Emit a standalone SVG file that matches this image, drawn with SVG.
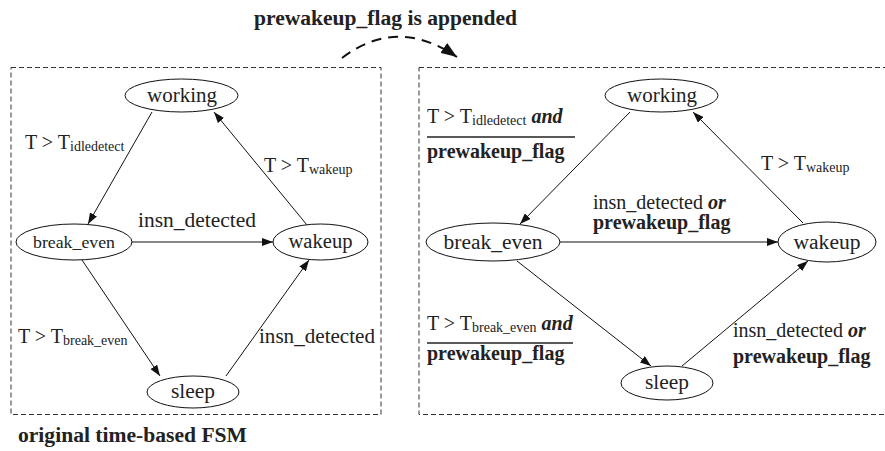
<svg xmlns="http://www.w3.org/2000/svg" width="885" height="451" viewBox="0 0 885 451">
<style>
text{font-family:'Liberation Serif','Times New Roman','DejaVu Serif',serif;font-size:20px;fill:#222}
.b{font-weight:bold}
.bi{font-weight:bold;font-style:italic}
.s{font-size:14px}
.n{fill:#fff;stroke:#111;stroke-width:1}
.e{stroke:#111;stroke-width:1;fill:none;marker-end:url(#ah)}
.box{fill:none;stroke:#333;stroke-width:1;stroke-dasharray:5,3}
.m{text-anchor:middle}
</style>
<defs>
<marker id="ah" markerUnits="userSpaceOnUse" markerWidth="11" markerHeight="8" refX="11" refY="4" orient="auto"><path d="M0,0 L11,4 L0,8 z" fill="#111"/></marker>
<marker id="ah2" markerUnits="userSpaceOnUse" markerWidth="16" markerHeight="12" refX="16" refY="6" orient="auto"><path d="M0,0 L16,6 L0,12 z" fill="#111"/></marker>
</defs>

<rect class="box" x="11" y="67.5" width="370" height="347"/>
<rect class="box" x="419" y="67.5" width="475" height="347"/>

<text class="b" x="254" y="25" textLength="263" lengthAdjust="spacingAndGlyphs">prewakeup_flag is appended</text>
<path d="M342,58 Q397,16 457,57" fill="none" stroke="#111" stroke-width="2" stroke-dasharray="10,7" marker-end="url(#ah2)"/>
<text class="b" x="18" y="442" textLength="229" lengthAdjust="spacingAndGlyphs">original time-based FSM</text>

<g id="connectors">
<line class="e" x1="152" y1="112" x2="88" y2="224"/>
<line class="e" x1="307" y1="225" x2="214" y2="112"/>
<line class="e" x1="132" y1="242" x2="273" y2="242"/>
<line class="e" x1="82" y1="260" x2="160" y2="376"/>
<line class="e" x1="226" y1="376" x2="309" y2="260"/>
<line class="e" x1="630" y1="112" x2="520" y2="224"/>
<line class="e" x1="803" y1="223" x2="693" y2="112"/>
<line class="e" x1="560" y1="242" x2="778" y2="242"/>
<line class="e" x1="517" y1="261" x2="651" y2="366"/>
<line class="e" x1="682" y1="366" x2="808" y2="261"/>
</g>

<g id="L_working"><ellipse class="n" cx="181.5" cy="95.5" rx="56.5" ry="16.5"/><text class="m" x="182" y="102" textLength="70" lengthAdjust="spacingAndGlyphs">working</text></g>
<g id="L_break_even"><ellipse class="n" cx="74" cy="242" rx="58" ry="18"/><text class="m" x="74" y="248" style="font-size:17px" textLength="82" lengthAdjust="spacingAndGlyphs">break_even</text></g>
<g id="L_wakeup"><ellipse class="n" cx="320.5" cy="242" rx="47.5" ry="18"/><text class="m" x="320.5" y="248" textLength="64" lengthAdjust="spacingAndGlyphs">wakeup</text></g>
<g id="L_sleep"><ellipse class="n" cx="193" cy="392" rx="46" ry="16"/><text class="m" x="193" y="398" textLength="44" lengthAdjust="spacingAndGlyphs">sleep</text></g>

<g id="L_labels">
<text x="25" y="149">T &gt; T<tspan class="s" dy="2">idledetect</tspan></text>
<text x="264" y="172">T &gt; T<tspan class="s" dy="2">wakeup</tspan></text>
<text x="138" y="227" textLength="118" lengthAdjust="spacingAndGlyphs">insn_detected</text>
<text x="18" y="343">T &gt; T<tspan class="s" dy="2">break_even</tspan></text>
<text x="259" y="343" textLength="116" lengthAdjust="spacingAndGlyphs">insn_detected</text>
</g>

<g id="R_working"><ellipse class="n" cx="661.5" cy="95.5" rx="56.5" ry="16.5"/><text class="m" x="662" y="102" textLength="70" lengthAdjust="spacingAndGlyphs">working</text></g>
<g id="R_break_even"><ellipse class="n" cx="493" cy="242" rx="67" ry="19"/><text class="m" x="493" y="249" textLength="99" lengthAdjust="spacingAndGlyphs">break_even</text></g>
<g id="R_wakeup"><ellipse class="n" cx="827" cy="242" rx="49" ry="20"/><text class="m" x="827" y="249" textLength="67" lengthAdjust="spacingAndGlyphs">wakeup</text></g>
<g id="R_sleep"><ellipse class="n" cx="667" cy="383" rx="46" ry="17"/><text class="m" x="667" y="389" textLength="44" lengthAdjust="spacingAndGlyphs">sleep</text></g>

<g id="R_labels">
<text x="427" y="123">T &gt; T<tspan class="s" dy="2">idledetect</tspan><tspan class="bi" dy="-2">  and</tspan></text>
<line x1="427" y1="137" x2="575" y2="137" stroke="#222" stroke-width="1.3"/>
<text class="b" x="427" y="158">prewakeup_flag</text>
<text x="593" y="209">insn_detected <tspan class="bi">or</tspan></text>
<text class="b" x="593" y="229">prewakeup_flag</text>
<text x="761" y="170">T &gt; T<tspan class="s" dy="2">wakeup</tspan></text>
<text x="427" y="330">T &gt; T<tspan class="s" dy="2">break_even</tspan><tspan class="bi" dy="-2">  and</tspan></text>
<line x1="427" y1="343" x2="573" y2="343" stroke="#222" stroke-width="1.3"/>
<text class="b" x="427" y="360">prewakeup_flag</text>
<text x="733" y="337">insn_detected  <tspan class="bi">or</tspan></text>
<text class="b" x="733" y="363">prewakeup_flag</text>
</g>
</svg>
